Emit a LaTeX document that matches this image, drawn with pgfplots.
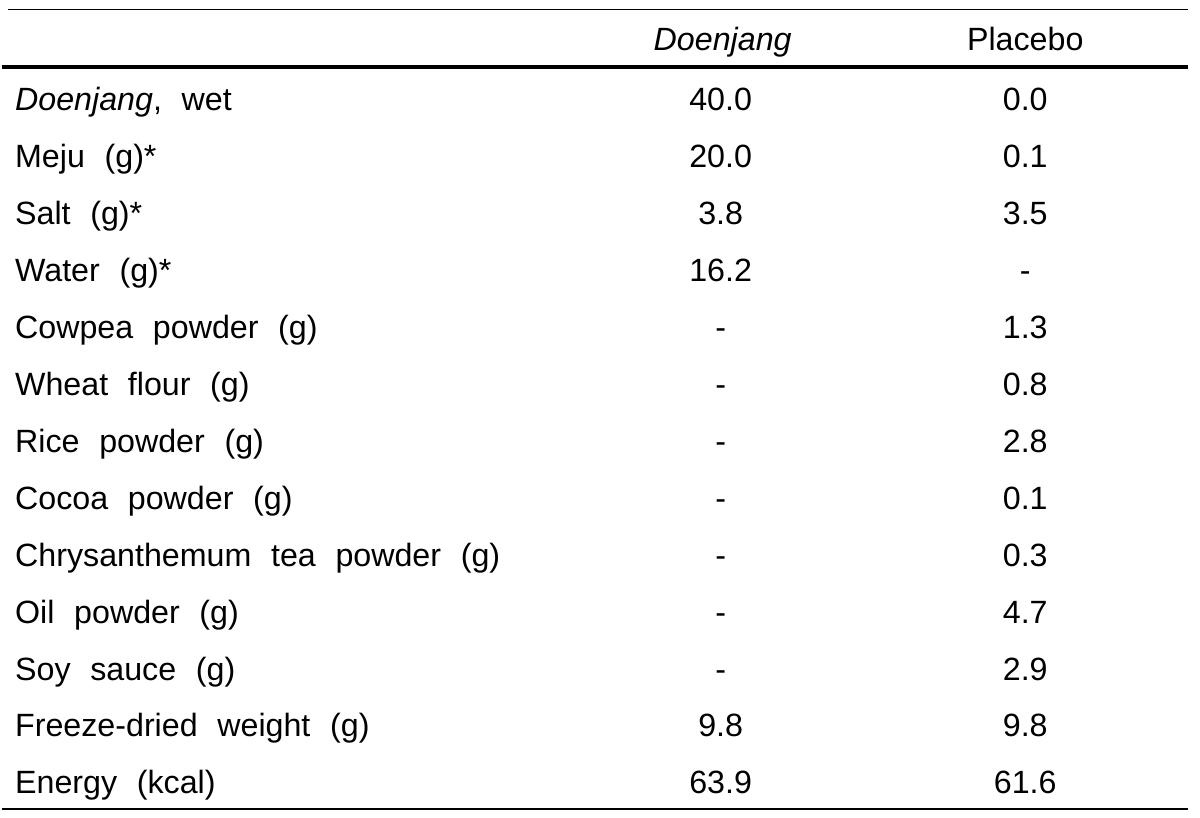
\documentclass[border=0pt]{standalone}
\usepackage{fontspec}
\setmainfont{Liberation Sans}[WordSpace=2.2]
\usepackage{pgfplots}
\usepackage{pgfplotstable}
\pgfplotsset{compat=1.18}

\pgfplotstableread[col sep=semicolon]{
x;y;t
13;111;\textit{Doenjang}, wet
13;168;Meju (g)*
13;225;Salt (g)*
13;282;Water (g)*
13;339;Cowpea powder (g)
13;396;Wheat flour (g)
13;453;Rice powder (g)
13;510;Cocoa powder (g)
13;567;Chrysanthemum tea powder (g)
13;624;Oil powder (g)
13;681;Soy sauce (g)
13;738;Freeze-dried weight (g)
13;795;Energy (kcal)
}\labels

\pgfplotstableread[col sep=semicolon]{
x;y;t
722;51;\textit{Doenjang}
720;111;40.0
720;168;20.0
720;225;3.8
720;282;16.2
720;339;-
720;396;-
720;453;-
720;510;-
720;567;-
720;624;-
720;681;-
720;738;9.8
720;795;63.9
}\doenjang

\pgfplotstableread[col sep=semicolon]{
x;y;t
1025;51;Placebo
1025;111;0.0
1025;168;0.1
1025;225;3.5
1025;282;-
1025;339;1.3
1025;396;0.8
1025;453;2.8
1025;510;0.1
1025;567;0.3
1025;624;4.7
1025;681;2.9
1025;738;9.8
1025;795;61.6
}\placebo

\begin{document}
\begin{tikzpicture}
\begin{axis}[
  width=480pt, height=327.6pt, scale only axis,
  xmin=0, xmax=1200, ymin=0, ymax=819, y dir=reverse,
  hide axis, clip=false,
  point meta=explicit symbolic,
  every node near coord/.append style={inner sep=0pt, font=\fontsize{12.9}{15}\selectfont, text=black},
]
\path (rel axis cs:0,0) rectangle (rel axis cs:1,1);
\addplot[black, line width=0.7pt] coordinates {(6,9.5) (1188,9.5)};
\addplot[black, line width=1.35pt] coordinates {(0,67) (1188,67)};
\addplot[black, line width=0.7pt] coordinates {(0,810) (1188,810)};
\addplot[only marks, mark=none,
  nodes near coords, nodes near coords align={anchor=base west}]
  table[x=x, y=y, meta=t] {\labels};
\addplot[only marks, mark=none,
  nodes near coords, nodes near coords align={anchor=base}]
  table[x=x, y=y, meta=t] {\doenjang};
\addplot[only marks, mark=none,
  nodes near coords, nodes near coords align={anchor=base}]
  table[x=x, y=y, meta=t] {\placebo};
\end{axis}
\end{tikzpicture}
\end{document}
